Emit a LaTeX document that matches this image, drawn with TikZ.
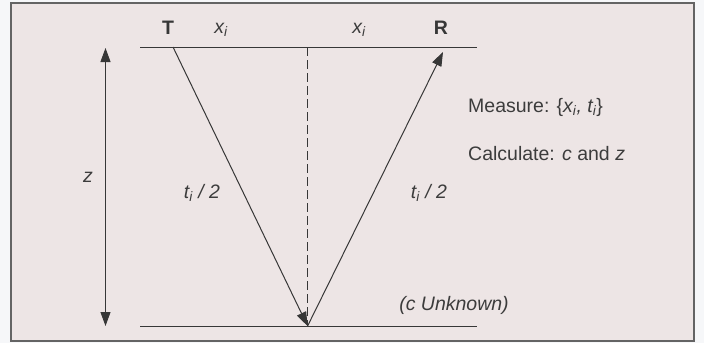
\documentclass[tikz,border=0pt]{standalone}
\usepackage{fontspec}
\setmainfont{Liberation Sans}
\usetikzlibrary{arrows.meta}
\definecolor{paper}{RGB}{237,229,229}
\definecolor{outside}{RGB}{246,247,249}
\definecolor{framec}{RGB}{100,100,100}
\definecolor{ink}{RGB}{55,55,55}
\definecolor{txt}{RGB}{60,60,60}
\begin{document}
\begin{tikzpicture}[x=1pt,y=-1pt,
  line/.style={draw=ink,line width=1pt},
  arr/.style={line,-{Triangle[length=14pt,width=10pt]}},
  dim/.style={line,{Triangle[length=14pt,width=10pt]}-{Triangle[length=14pt,width=10pt]}},
  lbl/.style={text=txt,font=\fontsize{19.5}{22}\selectfont,inner sep=0pt},
  blbl/.style={lbl,text=ink,font=\fontsize{19.5}{22}\selectfont\bfseries}]
\useasboundingbox (0,0) rectangle (704,343);
\fill[outside] (0,0) rectangle (704,343);
\filldraw[fill=paper,draw=framec,line width=1.2pt] (11,3) rectangle (694,341);
% geometry
\coordinate (tl) at (140,47);
\coordinate (tr) at (477,47);
\coordinate (bl) at (140,326);
\coordinate (br) at (477,326);
\coordinate (mtop) at (307.6,47);
\coordinate (bot) at (307.6,326);
\coordinate (Tfoot) at (173,47);
\coordinate (Rtip) at (443,52);
\coordinate (ztop) at (105.5,48);
\coordinate (zbot) at (105.5,326);
% lines
\draw[line] (tl) -- (tr);
\draw[line] (bl) -- (br);
\draw[line,dash pattern=on 9pt off 4pt] (mtop) -- (bot);
\draw[arr] (Tfoot) -- (bot);
\draw[arr] (bot) -- (Rtip);
\draw[dim] (ztop) -- (zbot);
% labels
\node[blbl] (T) at (168,28) {T};
\node[blbl] (R) at (441,28) {R};
\node[lbl] (xl) at (221,30) {\textit{x\textsubscript{i}}};
\node[lbl] (xr) at (359,30) {\textit{x\textsubscript{i}}};
\node[lbl] (z) at (88,177) {\textit{z}};
\node[lbl] (tl2) at (202,193) {\textit{t\textsubscript{i} / 2}};
\node[lbl] (tr2) at (429,193) {\textit{t\textsubscript{i} / 2}};
\node[lbl,anchor=west] (meas) at (468,107) {Measure: \{\textit{x\textsubscript{i}, t\textsubscript{i}}\}};
\node[lbl,anchor=west] (calc) at (468,154) {Calculate: \textit{c} and \textit{z}};
\node[lbl] (unk) at (454,305) {\textit{(c Unknown)}};
\end{tikzpicture}
\end{document}
